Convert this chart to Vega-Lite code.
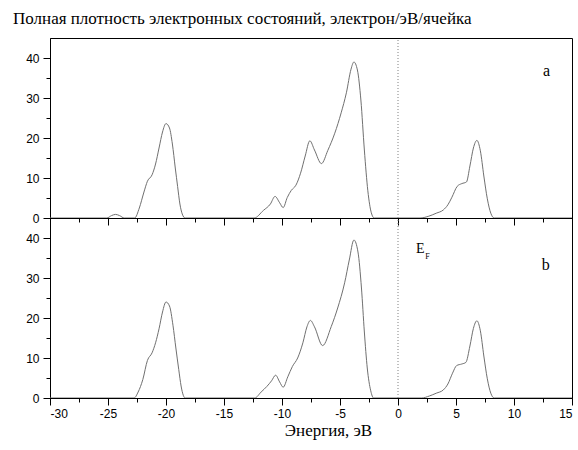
{
  "$schema": "https://vega.github.io/schema/vega-lite/v6.json",
  "padding": {"left": 12, "top": 9, "right": 5, "bottom": 5},
  "background": "white",
  "bounds": "flush",
  "spacing": 0,
  "datasets": {
    "dos": [
      {"panel": "a", "E": -30, "dos": 0},
      {"panel": "a", "E": -25.1, "dos": 0},
      {"panel": "a", "E": -24.7, "dos": 0.6},
      {"panel": "a", "E": -24.35, "dos": 0.9},
      {"panel": "a", "E": -24.0, "dos": 0.6},
      {"panel": "a", "E": -23.6, "dos": 0},
      {"panel": "a", "E": -22.7, "dos": 0},
      {"panel": "a", "E": -22.3, "dos": 2.5},
      {"panel": "a", "E": -21.9, "dos": 6.5},
      {"panel": "a", "E": -21.6, "dos": 9.2},
      {"panel": "a", "E": -21.2, "dos": 10.8},
      {"panel": "a", "E": -20.9, "dos": 13.5},
      {"panel": "a", "E": -20.6, "dos": 17.5},
      {"panel": "a", "E": -20.3, "dos": 21.5},
      {"panel": "a", "E": -20.0, "dos": 23.6},
      {"panel": "a", "E": -19.7, "dos": 22.5},
      {"panel": "a", "E": -19.45, "dos": 18.5},
      {"panel": "a", "E": -19.2, "dos": 12.5},
      {"panel": "a", "E": -19.0, "dos": 7.9},
      {"panel": "a", "E": -18.8, "dos": 3.5},
      {"panel": "a", "E": -18.6, "dos": 1.0},
      {"panel": "a", "E": -18.35, "dos": 0},
      {"panel": "a", "E": -12.4, "dos": 0},
      {"panel": "a", "E": -11.6, "dos": 1.9},
      {"panel": "a", "E": -11.0, "dos": 3.5},
      {"panel": "a", "E": -10.6, "dos": 5.4},
      {"panel": "a", "E": -10.2, "dos": 3.8},
      {"panel": "a", "E": -9.9, "dos": 2.6},
      {"panel": "a", "E": -9.55, "dos": 5.1},
      {"panel": "a", "E": -9.2, "dos": 6.9},
      {"panel": "a", "E": -8.8, "dos": 8.2},
      {"panel": "a", "E": -8.4, "dos": 11.2},
      {"panel": "a", "E": -8.0, "dos": 15.5},
      {"panel": "a", "E": -7.6, "dos": 19.3},
      {"panel": "a", "E": -7.2, "dos": 17.0},
      {"panel": "a", "E": -6.6, "dos": 13.6},
      {"panel": "a", "E": -6.05, "dos": 16.9},
      {"panel": "a", "E": -5.45, "dos": 21.2},
      {"panel": "a", "E": -4.9, "dos": 26.3},
      {"panel": "a", "E": -4.45, "dos": 31.3},
      {"panel": "a", "E": -4.05, "dos": 37.2},
      {"panel": "a", "E": -3.8, "dos": 39.0},
      {"panel": "a", "E": -3.5, "dos": 37.0},
      {"panel": "a", "E": -3.2, "dos": 29.5},
      {"panel": "a", "E": -2.9, "dos": 17.0},
      {"panel": "a", "E": -2.6, "dos": 6.8},
      {"panel": "a", "E": -2.3, "dos": 1.3},
      {"panel": "a", "E": -2.05, "dos": 0},
      {"panel": "a", "E": 1.9, "dos": 0},
      {"panel": "a", "E": 2.6, "dos": 0.4},
      {"panel": "a", "E": 3.3, "dos": 1.2},
      {"panel": "a", "E": 3.9, "dos": 2.0},
      {"panel": "a", "E": 4.3, "dos": 3.3},
      {"panel": "a", "E": 4.65, "dos": 5.2},
      {"panel": "a", "E": 5.1, "dos": 7.9},
      {"panel": "a", "E": 5.5, "dos": 8.6},
      {"panel": "a", "E": 5.9, "dos": 9.0},
      {"panel": "a", "E": 6.2, "dos": 13.0},
      {"panel": "a", "E": 6.5, "dos": 17.5},
      {"panel": "a", "E": 6.8, "dos": 19.4},
      {"panel": "a", "E": 7.1, "dos": 16.8},
      {"panel": "a", "E": 7.4, "dos": 10.5},
      {"panel": "a", "E": 7.7, "dos": 4.8},
      {"panel": "a", "E": 8.0, "dos": 1.2},
      {"panel": "a", "E": 8.3, "dos": 0},
      {"panel": "a", "E": 15, "dos": 0},
      {"panel": "b", "E": -30, "dos": 0},
      {"panel": "b", "E": -22.75, "dos": 0},
      {"panel": "b", "E": -22.4, "dos": 1.5},
      {"panel": "b", "E": -22.0, "dos": 4.6},
      {"panel": "b", "E": -21.6, "dos": 9.4},
      {"panel": "b", "E": -21.2, "dos": 11.3},
      {"panel": "b", "E": -20.9, "dos": 13.8},
      {"panel": "b", "E": -20.6, "dos": 17.3},
      {"panel": "b", "E": -20.3, "dos": 21.5},
      {"panel": "b", "E": -20.0, "dos": 24.0},
      {"panel": "b", "E": -19.7, "dos": 23.0},
      {"panel": "b", "E": -19.4, "dos": 18.2},
      {"panel": "b", "E": -19.15, "dos": 12.5},
      {"panel": "b", "E": -18.9, "dos": 7.1},
      {"panel": "b", "E": -18.7, "dos": 3.0},
      {"panel": "b", "E": -18.5, "dos": 0.6},
      {"panel": "b", "E": -18.35, "dos": 0},
      {"panel": "b", "E": -12.35, "dos": 0},
      {"panel": "b", "E": -11.8, "dos": 1.5},
      {"panel": "b", "E": -11.3, "dos": 2.9},
      {"panel": "b", "E": -10.9, "dos": 4.3},
      {"panel": "b", "E": -10.55, "dos": 5.7},
      {"panel": "b", "E": -10.2, "dos": 4.0},
      {"panel": "b", "E": -9.9, "dos": 2.7},
      {"panel": "b", "E": -9.5, "dos": 5.3},
      {"panel": "b", "E": -9.1, "dos": 7.9},
      {"panel": "b", "E": -8.65, "dos": 10.0},
      {"panel": "b", "E": -8.2, "dos": 13.8},
      {"panel": "b", "E": -7.85, "dos": 17.8},
      {"panel": "b", "E": -7.55, "dos": 19.4},
      {"panel": "b", "E": -7.2, "dos": 17.8},
      {"panel": "b", "E": -6.5, "dos": 13.1},
      {"panel": "b", "E": -5.75, "dos": 17.9},
      {"panel": "b", "E": -5.2, "dos": 22.5},
      {"panel": "b", "E": -4.6, "dos": 28.8},
      {"panel": "b", "E": -4.2, "dos": 34.5},
      {"panel": "b", "E": -3.8, "dos": 39.5},
      {"panel": "b", "E": -3.45, "dos": 36.5},
      {"panel": "b", "E": -3.15, "dos": 27.5},
      {"panel": "b", "E": -2.9, "dos": 16.5},
      {"panel": "b", "E": -2.65, "dos": 7.5},
      {"panel": "b", "E": -2.35, "dos": 1.8},
      {"panel": "b", "E": -2.1, "dos": 0},
      {"panel": "b", "E": 2.05, "dos": 0},
      {"panel": "b", "E": 2.7, "dos": 0.5},
      {"panel": "b", "E": 3.3, "dos": 1.2},
      {"panel": "b", "E": 3.9, "dos": 2.0},
      {"panel": "b", "E": 4.3, "dos": 3.5},
      {"panel": "b", "E": 4.7, "dos": 6.2},
      {"panel": "b", "E": 5.05, "dos": 8.1},
      {"panel": "b", "E": 5.5, "dos": 8.5},
      {"panel": "b", "E": 5.85, "dos": 8.9},
      {"panel": "b", "E": 6.2, "dos": 13.0},
      {"panel": "b", "E": 6.5, "dos": 17.4},
      {"panel": "b", "E": 6.8, "dos": 19.3},
      {"panel": "b", "E": 7.1, "dos": 16.8},
      {"panel": "b", "E": 7.4, "dos": 10.5},
      {"panel": "b", "E": 7.7, "dos": 4.8},
      {"panel": "b", "E": 8.0, "dos": 1.2},
      {"panel": "b", "E": 8.3, "dos": 0},
      {"panel": "b", "E": 15, "dos": 0}
    ]
  },
  "vconcat": [
    {
      "width": 522,
      "height": 180,
      "title": {
        "text": "Полная плотность электронных состояний, электрон/эВ/ячейка",
        "anchor": "start",
        "frame": "group",
        "dx": -37,
        "offset": 10,
        "font": "Liberation Serif",
        "fontSize": 17,
        "fontWeight": "normal",
        "color": "black"
      },
      "layer": [
        {
          "data": {"name": "dos"},
          "transform": [{"filter": "datum.panel === 'a'"}],
          "mark": {"type": "line", "interpolate": "monotone", "color": "#707070", "strokeWidth": 1, "clip": true},
          "encoding": {
            "x": {"field": "E", "type": "quantitative", "scale": {"domain": [-30, 15], "nice": false},
              "axis": {"orient": "bottom", "title": null, "labels": false, "values": [-30, -25, -20, -15, -10, -5, 0, 5, 10, 15], "tickSize": 7, "grid": false}},
            "y": {"field": "dos", "type": "quantitative", "scale": {"domain": [0, 45], "nice": false},
              "axis": {"orient": "left", "title": null, "values": [0, 10, 20, 30, 40], "tickSize": 7, "grid": false, "labelPadding": 4}}
          }
        },
        {
          "data": {"values": [{}]},
          "mark": {"type": "rule", "color": "#808080", "strokeDash": [1, 2], "strokeWidth": 1},
          "encoding": {
            "x": {"datum": 0, "type": "quantitative",
              "axis": {"orient": "bottom", "title": null, "labels": false, "domain": false, "values": [-27.5, -22.5, -17.5, -12.5, -7.5, -2.5, 2.5, 7.5, 12.5], "tickSize": 4, "grid": false}},
            "y": {"datum": 0, "type": "quantitative",
              "axis": {"orient": "left", "title": null, "labels": false, "domain": false, "values": [5, 15, 25, 35], "tickSize": 4, "grid": false}},
            "y2": {"datum": 45}
          }
        },
        {
          "data": {"values": [{}]},
          "mark": {"type": "text", "font": "Liberation Serif", "fontSize": 16, "align": "left", "baseline": "alphabetic", "color": "black"},
          "encoding": {
            "text": {"value": "a"},
            "x": {"datum": 12.5, "type": "quantitative", "axis": null},
            "y": {"datum": 35.5, "type": "quantitative", "axis": null}
          }
        }
      ],
      "resolve": {"axis": {"x": "independent", "y": "independent"}}
    },
    {
      "width": 522,
      "height": 180,
      "layer": [
        {
          "data": {"name": "dos"},
          "transform": [{"filter": "datum.panel === 'b'"}],
          "mark": {"type": "line", "interpolate": "monotone", "color": "#707070", "strokeWidth": 1, "clip": true},
          "encoding": {
            "x": {"field": "E", "type": "quantitative", "scale": {"domain": [-30, 15], "nice": false},
              "axis": {"orient": "bottom", "title": "Энергия, эВ", "values": [-30, -25, -20, -15, -10, -5, 0, 5, 10, 15], "labelExpr": "'' + datum.value", "tickSize": 7, "grid": false, "labelPadding": 3, "titleX": 278, "titleY": 37, "titleAlign": "center", "titleBaseline": "alphabetic", "titleFontSize": 17}},
            "y": {"field": "dos", "type": "quantitative", "scale": {"domain": [0, 45], "nice": false},
              "axis": {"orient": "left", "title": null, "values": [0, 10, 20, 30, 40], "tickSize": 7, "grid": false, "labelPadding": 4}}
          }
        },
        {
          "data": {"values": [{}]},
          "mark": {"type": "rule", "color": "#808080", "strokeDash": [1, 2], "strokeWidth": 1},
          "encoding": {
            "x": {"datum": 0, "type": "quantitative",
              "axis": {"orient": "bottom", "title": null, "labels": false, "domain": false, "values": [-27.5, -22.5, -17.5, -12.5, -7.5, -2.5, 2.5, 7.5, 12.5], "tickSize": 4, "grid": false}},
            "y": {"datum": 0, "type": "quantitative",
              "axis": {"orient": "left", "title": null, "labels": false, "domain": false, "values": [5, 15, 25, 35], "tickSize": 4, "grid": false}},
            "y2": {"datum": 45}
          }
        },
        {
          "data": {"values": [{}]},
          "mark": {"type": "text", "font": "Liberation Serif", "fontSize": 16, "align": "left", "baseline": "alphabetic", "color": "black"},
          "encoding": {
            "text": {"value": "b"},
            "x": {"datum": 12.4, "type": "quantitative", "axis": null},
            "y": {"datum": 32, "type": "quantitative", "axis": null}
          }
        },
        {
          "data": {"values": [{}]},
          "mark": {"type": "text", "font": "Liberation Serif", "fontSize": 14, "align": "left", "baseline": "alphabetic", "color": "black"},
          "encoding": {
            "text": {"value": "E"},
            "x": {"datum": 1.55, "type": "quantitative", "axis": null},
            "y": {"datum": 36.3, "type": "quantitative", "axis": null}
          }
        },
        {
          "data": {"values": [{}]},
          "mark": {"type": "text", "font": "Liberation Serif", "fontSize": 8, "align": "left", "baseline": "alphabetic", "color": "black"},
          "encoding": {
            "text": {"value": "F"},
            "x": {"datum": 2.35, "type": "quantitative", "axis": null},
            "y": {"datum": 34.8, "type": "quantitative", "axis": null}
          }
        }
      ],
      "resolve": {"axis": {"x": "independent", "y": "independent"}}
    }
  ],
  "config": {
    "view": {"stroke": "black", "strokeWidth": 1},
    "axis": {
      "domainColor": "black",
      "tickColor": "black",
      "labelColor": "black",
      "labelFont": "Liberation Sans",
      "labelFontSize": 12,
      "titleFont": "Liberation Serif",
      "titleFontSize": 15,
      "titleFontWeight": "normal",
      "titleColor": "black"
    }
  }
}
